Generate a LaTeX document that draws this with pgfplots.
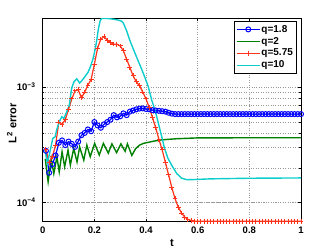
\documentclass[border=0pt]{standalone}
\usepackage{fontspec}
\setmainfont{Liberation Sans}
\usepackage{pgfplots}
\pgfplotsset{compat=1.18}
\definecolor{mblue}{rgb}{0,0,1}
\definecolor{mgreen}{rgb}{0,0.5,0}
\definecolor{mred}{rgb}{1,0.2,0.1}
\definecolor{mcyan}{rgb}{0.05,0.8,0.8}
\begin{document}
\begin{tikzpicture}[x=1pt,y=1pt]
\useasboundingbox (0,0) rectangle (332,250);
\begin{axis}[
  at={(42.7pt,28.3pt)}, anchor=south west,
  scale only axis, width=258.3pt, height=203.4pt,
  ymode=log, xmin=0, xmax=1, ymin=6.84e-5, ymax=3.98e-3,
  xtick={0,0.2,0.4,0.6,0.8,1}, xticklabels={0,0.2,0.4,0.6,0.8,1},
  ytick={1e-4,1e-3}, yticklabels={10\textsuperscript{−4},10\textsuperscript{−3}},
  tick align=inside, major tick length=3pt, minor tick length=1.6pt,
  xmajorgrids, ymajorgrids, yminorgrids,
  grid style={dotted, black!40, line width=0.45pt},
  minor grid style={dotted, black!40, line width=0.45pt},
  axis line style={line width=0.6pt},
  tick style={line width=0.5pt, black},
  tick label style={font=\fontsize{9.5}{11}\selectfont\bfseries},
  xticklabel style={anchor=north, yshift=-1.6pt},
  yticklabel style={anchor=base east, yshift=-3.4pt, xshift=-3.7pt},
  xlabel={t}, ylabel={L\textsuperscript{2} error},
  label style={font=\fontsize{11}{13}\selectfont\bfseries},
  xlabel style={at={(axis description cs:0.5,0)}, anchor=center, yshift=-21.6pt},
  ylabel style={at={(axis description cs:-0.12,0.484)}, anchor=center},
  legend style={at={(axis description cs:0.981,0.987)}, anchor=north east,
    font=\fontsize{10}{12}\selectfont\bfseries, draw=black, fill=white,
    inner xsep=2pt, inner ysep=3pt,
    nodes={inner sep=1pt}, row sep=1.5pt},
  legend cell align=left,
  legend image code/.code={\draw[mark repeat=2,mark phase=2,#1] plot coordinates {(0pt,0pt) (11.5pt,0pt) (23pt,0pt)};},
]
\addplot[mblue, line width=1.2pt, mark=o, mark size=2.5pt, mark options={line width=1pt}] coordinates {
(0.0125,2.82e-4)(0.025,1.82e-4)(0.0375,2.16e-4)(0.05,2.57e-4)(0.0625,3.31e-4)(0.075,3.47e-4)(0.0875,3.16e-4)(0.1,3.39e-4)
(0.1125,3.24e-4)(0.125,3.05e-4)(0.1375,3.39e-4)(0.15,3.85e-4)(0.1625,4.03e-4)(0.175,4.32e-4)(0.1875,4.17e-4)(0.2,5.01e-4)
(0.2125,4.68e-4)(0.225,4.47e-4)(0.2375,4.79e-4)(0.25,5.01e-4)(0.2625,5.25e-4)(0.275,5.75e-4)(0.2875,5.50e-4)(0.3,5.62e-4)
(0.3125,5.96e-4)(0.325,5.75e-4)(0.3375,6.17e-4)(0.35,6.31e-4)(0.3625,6.46e-4)(0.375,6.56e-4)(0.3875,6.58e-4)(0.4,6.50e-4)
(0.4125,6.46e-4)(0.425,6.35e-4)(0.4375,6.31e-4)(0.45,6.27e-4)(0.4625,6.22e-4)(0.475,6.17e-4)(0.4875,6.03e-4)(0.5,5.92e-4)
(0.5125,5.87e-4)(0.525,5.87e-4)(0.5375,5.87e-4)(0.55,5.87e-4)(0.5625,5.87e-4)(0.575,5.87e-4)(0.5875,5.87e-4)(0.6,5.87e-4)
(0.6125,5.87e-4)(0.625,5.87e-4)(0.6375,5.87e-4)(0.65,5.87e-4)(0.6625,5.87e-4)(0.675,5.87e-4)(0.6875,5.87e-4)(0.7,5.87e-4)
(0.7125,5.87e-4)(0.725,5.87e-4)(0.7375,5.87e-4)(0.75,5.87e-4)(0.7625,5.87e-4)(0.775,5.87e-4)(0.7875,5.87e-4)(0.8,5.87e-4)
(0.8125,5.87e-4)(0.825,5.87e-4)(0.8375,5.87e-4)(0.85,5.87e-4)(0.8625,5.87e-4)(0.875,5.87e-4)(0.8875,5.87e-4)(0.9,5.87e-4)
(0.9125,5.87e-4)(0.925,5.87e-4)(0.9375,5.87e-4)(0.95,5.87e-4)(0.9625,5.87e-4)(0.975,5.87e-4)(0.9875,5.87e-4)(1,5.87e-4)
};
\addlegendentry{q=1.8}
\addplot[mgreen, line width=1.4pt] coordinates {
(0.01,2.40e-4)(0.021,1.52e-4)(0.033,2.42e-4)(0.043,1.79e-4)(0.055,2.50e-4)(0.064,1.85e-4)(0.075,2.76e-4)(0.085,2.05e-4)
(0.098,2.86e-4)(0.107,2.12e-4)(0.120,2.96e-4)(0.133,2.26e-4)(0.143,3.05e-4)(0.159,2.34e-4)(0.171,3.16e-4)(0.184,2.50e-4)
(0.201,3.27e-4)(0.219,2.59e-4)(0.235,3.27e-4)(0.254,2.69e-4)(0.268,3.24e-4)(0.286,2.72e-4)(0.303,3.24e-4)(0.319,2.79e-4)
(0.328,3.24e-4)(0.345,2.57e-4)(0.36,2.95e-4)(0.375,3.16e-4)(0.39,3.27e-4)(0.43,3.42e-4)(0.46,3.51e-4)(0.52,3.59e-4)
(0.6,3.65e-4)(0.8,3.66e-4)(1,3.66e-4)
};
\addlegendentry{q=2}
\addplot[mred, line width=1.2pt, mark=+, mark size=2.4pt, mark options={line width=1pt}] coordinates {
(0.0125,2.88e-4)(0.025,2.24e-4)(0.0375,2.51e-4)(0.05,3.16e-4)(0.0625,5.01e-4)(0.075,4.79e-4)(0.0875,5.25e-4)(0.1,6.46e-4)
(0.1125,7.94e-4)(0.125,9.33e-4)(0.1375,9.55e-4)(0.15,8.13e-4)(0.1625,9.12e-4)(0.175,1.047e-3)(0.1875,1.175e-3)(0.2,1.585e-3)
(0.2125,2.188e-3)(0.225,2.630e-3)(0.2375,2.754e-3)(0.25,2.570e-3)(0.2625,2.455e-3)(0.275,2.377e-3)(0.2875,2.371e-3)(0.3,2.291e-3)
(0.3125,2.075e-3)(0.325,1.758e-3)(0.3375,1.489e-3)(0.35,1.260e-3)(0.3625,1.120e-3)(0.375,1.035e-3)(0.3875,9.12e-4)(0.4,7.94e-4)
(0.4125,6.68e-4)(0.425,5.50e-4)(0.4375,4.47e-4)(0.45,3.55e-4)(0.4625,2.88e-4)(0.475,2.24e-4)(0.4875,1.74e-4)(0.5,1.35e-4)
(0.5125,1.08e-4)(0.525,9.12e-5)(0.5375,8.13e-5)(0.55,7.50e-5)(0.5625,7.16e-5)(0.575,7.00e-5)(0.5875,6.92e-5)(0.6,6.92e-5)
(0.6125,6.92e-5)(0.625,6.92e-5)(0.6375,6.92e-5)(0.65,6.92e-5)(0.6625,6.92e-5)(0.675,6.92e-5)(0.6875,6.92e-5)(0.7,6.92e-5)
(0.7125,6.92e-5)(0.725,6.92e-5)(0.7375,6.92e-5)(0.75,6.92e-5)(0.7625,6.92e-5)(0.775,6.92e-5)(0.7875,6.92e-5)(0.8,6.92e-5)
(0.8125,6.92e-5)(0.825,6.92e-5)(0.8375,6.92e-5)(0.85,6.92e-5)(0.8625,6.92e-5)(0.875,6.92e-5)(0.8875,6.92e-5)(0.9,6.92e-5)
(0.9125,6.92e-5)(0.925,6.92e-5)(0.9375,6.92e-5)(0.95,6.92e-5)(0.9625,6.92e-5)(0.975,6.92e-5)(0.9875,6.92e-5)(1,6.92e-5)
};
\addlegendentry{q=5.75}
\addplot[mcyan, line width=1.4pt] coordinates {
(0.009,2.86e-4)(0.018,2.19e-4)(0.028,2.76e-4)(0.039,3.61e-4)(0.048,3.73e-4)(0.054,4.27e-4)(0.064,5.04e-4)(0.074,5.56e-4)
(0.082,5.38e-4)(0.093,6.14e-4)(0.103,7.02e-4)(0.112,9.80e-4)(0.121,1.12e-3)(0.132,1.189e-3)(0.143,1.091e-3)(0.152,1.148e-3)
(0.164,1.245e-3)(0.175,1.349e-3)(0.185,1.514e-3)(0.195,1.778e-3)(0.203,2.138e-3)(0.209,2.535e-3)(0.215,3.162e-3)(0.222,3.758e-3)
(0.228,3.97e-3)(0.241,3.98e-3)(0.258,3.95e-3)(0.273,3.91e-3)(0.293,3.84e-3)(0.305,3.76e-3)(0.312,3.631e-3)(0.325,3.10e-3)
(0.338,2.535e-3)(0.351,2.148e-3)(0.364,1.820e-3)(0.383,1.442e-3)(0.396,1.216e-3)(0.409,1.012e-3)(0.422,7.76e-4)(0.435,6.35e-4)
(0.448,4.88e-4)(0.461,3.73e-4)(0.472,2.95e-4)(0.484,2.45e-4)(0.499,2.12e-4)(0.519,1.79e-4)(0.538,1.63e-4)(0.557,1.585e-4)
(0.575,1.585e-4)(0.65,1.61e-4)(0.8,1.63e-4)(1,1.64e-4)
};
\addlegendentry{q=10}
\end{axis}
\end{tikzpicture}
\end{document}
